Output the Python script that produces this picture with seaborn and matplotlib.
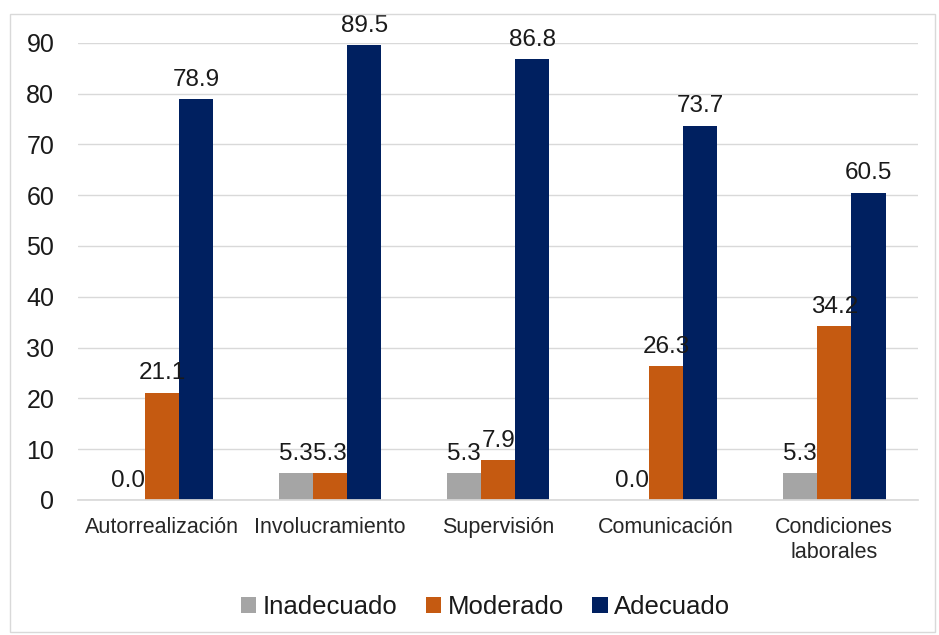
import matplotlib
matplotlib.use("Agg")
import matplotlib.pyplot as plt
from matplotlib.patches import Rectangle
import seaborn as sns
import pandas as pd

categorias = ["Autorrealización", "Involucramiento", "Supervisión",
              "Comunicación", "Condiciones\nlaborales"]
niveles = ["Inadecuado", "Moderado", "Adecuado"]
inadecuado = [0.0, 5.3, 5.3, 0.0, 5.3]
moderado = [21.1, 5.3, 7.9, 26.3, 34.2]
adecuado = [78.9, 89.5, 86.8, 73.7, 60.5]
colores = ["#A5A5A5", "#C55A11", "#002060"]

df = pd.DataFrame({
    "categoria": categorias * 3,
    "nivel": [n for n in niveles for _ in categorias],
    "valor": inadecuado + moderado + adecuado,
})

sns.set_theme(style="white")
plt.rcParams["font.family"] = ["Liberation Sans", "DejaVu Sans"]

fig = plt.figure(figsize=(9.39, 6.35), dpi=100)
ax = fig.add_axes([0.083, 0.2126, 0.895, 0.72])

sns.barplot(data=df, x="categoria", y="valor", hue="nivel", hue_order=niveles,
            palette=colores, width=0.61, saturation=1, ax=ax, errorbar=None,
            linewidth=0)

for cont in ax.containers:
    ax.bar_label(cont, labels=[f"{v:.1f}" for v in cont.datavalues],
                 fontsize=17.5, color="#1a1a1a", padding=6)

ax.set_ylim(0, 90)
ax.set_yticks(range(0, 91, 10))
ax.set_xlim(-0.5, 4.5)
ax.grid(axis="y", color="#D9D9D9", linewidth=1)
ax.set_axisbelow(True)
for s in ["top", "right", "left"]:
    ax.spines[s].set_visible(False)
ax.spines["bottom"].set_color("#D9D9D9")
ax.set_xlabel("")
ax.set_ylabel("")
ax.tick_params(axis="y", labelsize=18, pad=17, length=0, labelcolor="#1a1a1a")
ax.tick_params(axis="x", labelsize=15.5, pad=12, length=0, labelcolor="#262626")
for lbl in ax.get_xticklabels():
    lbl.set_linespacing(1.3)

leg = ax.legend(loc="upper center", bbox_to_anchor=(0.485, -0.157), ncol=3,
                frameon=False, fontsize=18.5, handlelength=0.6, handleheight=0.6,
                handletextpad=0.25, columnspacing=1.1)
for t in leg.get_texts():
    t.set_color("#1a1a1a")

fig.patches.append(Rectangle((10 / 939, 3 / 635), 925 / 939, 618 / 635,
                             transform=fig.transFigure, fill=False,
                             edgecolor="#D9D9D9", linewidth=1))

fig.savefig("out.png", dpi=100, facecolor="white")
